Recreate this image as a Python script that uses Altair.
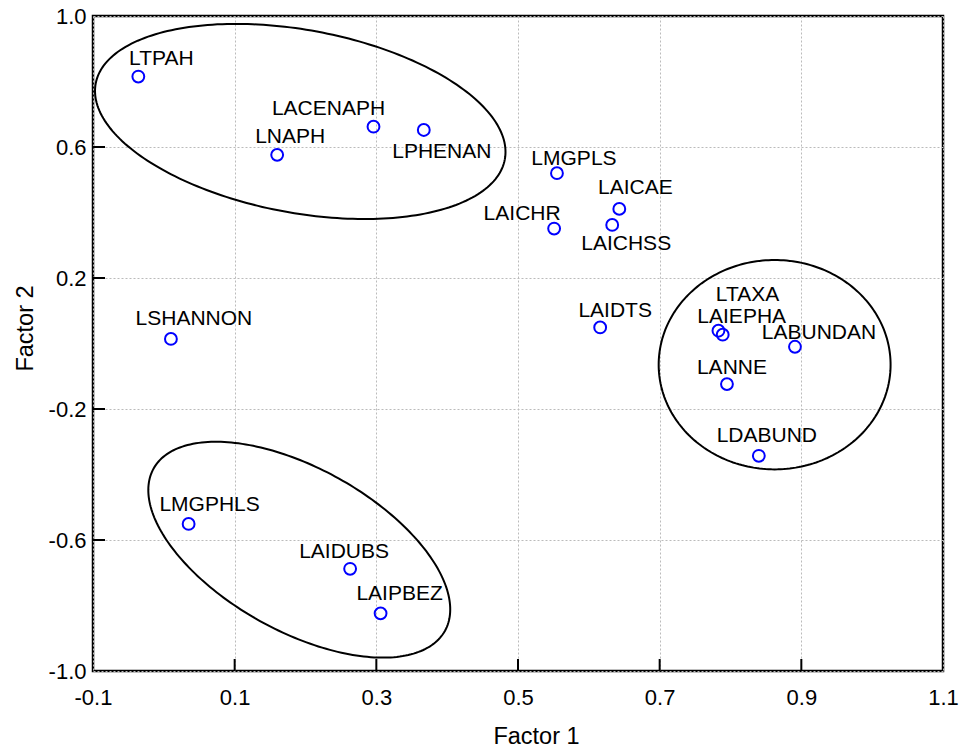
import altair as alt
import numpy as np
import pandas as pd

# ---- data ----
names = ["LTPAH", "LNAPH", "LACENAPH", "LPHENAN", "LMGPLS", "LAICAE", "LAICHSS",
         "LAICHR", "LAIDTS", "LTAXA", "LAIEPHA", "LABUNDAN", "LANNE", "LDABUND",
         "LSHANNON", "LMGPHLS", "LAIDUBS", "LAIPBEZ"]
factor1 = [-0.036, 0.160, 0.296, 0.367, 0.555, 0.643, 0.633,
           0.551, 0.616, 0.783, 0.789, 0.891, 0.795, 0.840,
           0.010, 0.035, 0.263, 0.306]
factor2 = [0.815, 0.576, 0.662, 0.652, 0.520, 0.411, 0.362,
           0.351, 0.049, 0.039, 0.027, -0.010, -0.124, -0.343,
           0.014, -0.551, -0.688, -0.824]

x_ticks = [-0.1, 0.1, 0.3, 0.5, 0.7, 0.9, 1.1]
y_ticks = [-1.0, -0.6, -0.2, 0.2, 0.6, 1.0]
x_inner_ticks = [0.1, 0.3, 0.5, 0.7, 0.9]
y_inner_ticks = [-0.6, -0.2, 0.2, 0.6]

# ellipse outlines: centre and two conjugate semi-diameters (data units)
ellipse_ids = ["top", "bottom", "right"]
ellipse_cx = [0.1926, 0.1912, 0.8623]
ellipse_cy = [0.678, -0.6296, -0.0647]
ellipse_ux = [0.2888, 0.2056, 0.1637]
ellipse_uy = [-0.1157, -0.2480, 0.0]
ellipse_vx = [-0.0235, -0.0561, 0.0]
ellipse_vy = [-0.2745, -0.2170, 0.3197]

# label offsets in pixels (dx, dy of text baseline from point)
label_offsets = {
    "LTPAH": (23, -12), "LNAPH": (13, -12), "LACENAPH": (-45, -12),
    "LPHENAN": (18, 28), "LMGPLS": (17, -8), "LAICAE": (16, -15),
    "LAICHSS": (14, 25), "LAICHR": (-32, -9), "LAIDTS": (15, -10),
    "LTAXA": (29, -30), "LAIEPHA": (19, -12), "LABUNDAN": (24, -8),
    "LANNE": (5, -10), "LDABUND": (8, -14), "LSHANNON": (23, -14),
    "LMGPHLS": (21, -13), "LAIDUBS": (-6, -11), "LAIPBEZ": (19, -13),
}

FONT = "Liberation Sans"
W, H = 850, 655
LABEL_EXPR = "(datum.value < 0 ? '-' : '') + format(abs(datum.value), '.1f')"

pts = pd.DataFrame({"name": names, "f1": factor1, "f2": factor2})

t = np.linspace(0, 2 * np.pi, 241)
rows = []
for i, eid in enumerate(ellipse_ids):
    for k, tt in enumerate(t):
        rows.append({
            "eid": eid, "k": k,
            "f1": ellipse_cx[i] + ellipse_ux[i] * np.cos(tt) + ellipse_vx[i] * np.sin(tt),
            "f2": ellipse_cy[i] + ellipse_uy[i] * np.cos(tt) + ellipse_vy[i] * np.sin(tt),
        })
ell = pd.DataFrame(rows)

xscale = alt.Scale(domain=[-0.1, 1.1], nice=False, zero=False)
yscale = alt.Scale(domain=[-1.0, 1.0], nice=False, zero=False)

x_axis = alt.Axis(values=x_ticks, labelExpr=LABEL_EXPR, title="Factor 1", grid=True,
                  ticks=False, tickSize=0, domain=False, labelPadding=16,
                  labelFlush=False, labelOverlap=False,
                  labelFontSize=22, labelFont=FONT, labelColor="black",
                  titleFont=FONT, titleFontSize=23.5, titleFontWeight="normal",
                  titleColor="black", titleX=443, titleY=72,
                  titleBaseline="alphabetic", titleAlign="center",
                  gridColor="#bbbbbb", gridDash=[2, 2], gridWidth=1)
y_axis = alt.Axis(values=y_ticks, labelExpr=LABEL_EXPR, title="Factor 2", grid=True,
                  ticks=False, tickSize=0, domain=False, labelPadding=7,
                  labelFlush=False, labelOverlap=False,
                  labelFontSize=22, labelFont=FONT, labelColor="black",
                  titleFont=FONT, titleFontSize=23.5, titleFontWeight="normal",
                  titleColor="black", titleX=-61, titleY=312, titleAngle=270,
                  titleBaseline="alphabetic", titleAlign="center",
                  gridColor="#bbbbbb", gridDash=[2, 2], gridWidth=1)

X = lambda f: alt.X(f, scale=xscale, axis=x_axis)
Y = lambda f: alt.Y(f, scale=yscale, axis=y_axis)

points = alt.Chart(pts).mark_point(
    shape="circle", filled=False, color="#0000ff", size=140, strokeWidth=2, opacity=1
).encode(x=X("f1:Q"), y=Y("f2:Q"))

ellipses = alt.Chart(ell).mark_line(color="black", strokeWidth=2).encode(
    x=X("f1:Q"), y=Y("f2:Q"), detail="eid:N", order="k:Q",
)

labels = []
for nm in names:
    dx, dy = label_offsets[nm]
    labels.append(
        alt.Chart(pts).transform_filter(alt.datum.name == nm).mark_text(
            font=FONT, fontSize=21, align="center", baseline="alphabetic",
            dx=dx, dy=dy, color="black"
        ).encode(x=X("f1:Q"), y=Y("f2:Q"), text="name:N")
    )

xt = alt.Chart(pd.DataFrame({"v": x_inner_ticks})).mark_rule(
    color="black", strokeWidth=2).encode(
    x=X("v:Q"), y=alt.value(H), y2=alt.value(H - 12))
yt = alt.Chart(pd.DataFrame({"v": y_inner_ticks})).mark_rule(
    color="black", strokeWidth=2).encode(
    y=Y("v:Q"), x=alt.value(0), x2=alt.value(12))

chart = alt.layer(points, ellipses, xt, yt, *labels).properties(
    width=W, height=H,
    autosize=alt.AutoSizeParams(type="none"),
    padding={"left": 93, "top": 16, "right": 20, "bottom": 76},
    background="white",
).configure_view(stroke="black", strokeWidth=2.5)

chart.save("out.html", embed_options={"renderer": "svg", "actions": False})
